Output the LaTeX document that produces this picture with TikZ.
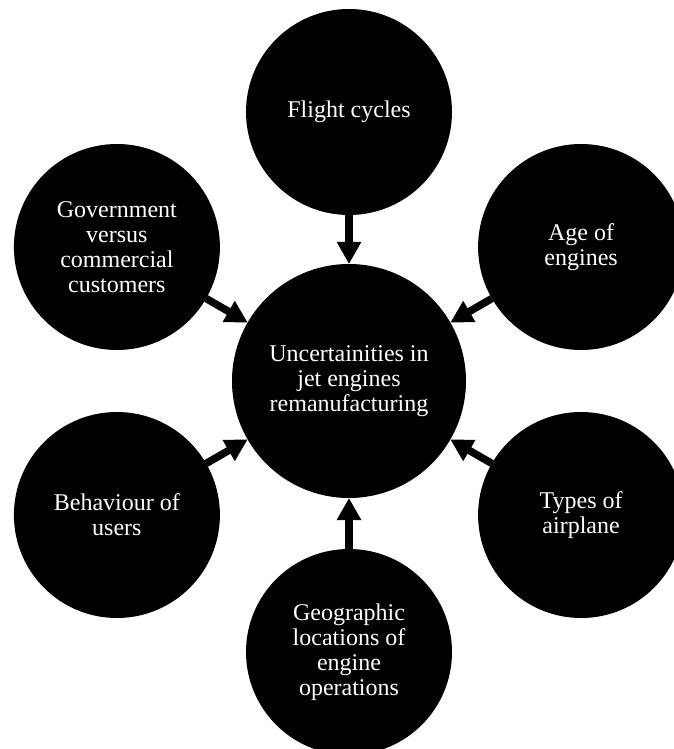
\documentclass[tikz,border=0pt]{standalone}
\usepackage{fontspec}
\setmainfont{Liberation Serif}
\usetikzlibrary{arrows.meta}

\begin{document}
\begin{tikzpicture}[
  bubble/.style={circle,fill=black,text=white,inner sep=0pt,outer sep=0pt,minimum size=206pt,align=center,font=\fontsize{24}{25}\selectfont},
  hub/.style={bubble,minimum size=234pt},
  arr/.style={-{Triangle[width=23pt,length=22pt]},line width=7.5pt}]
\useasboundingbox (-349pt,-368pt) rectangle (325pt,381pt);
\node[hub] (a) at (0,0) {Uncertainities in\\jet engines\\remanufacturing};
\node[bubble] (b) at (90:269pt)  {Flight cycles};
\node[bubble] (c) at (30:268pt)  {Age of\\engines};
\node[bubble] (d) at (330:268pt) {Types of\\airplane};
\node[bubble] (e) at (270:271pt) {Geographic\\locations of\\engine\\operations};
\node[bubble] (f) at (210:268pt) {Behaviour of\\users};
\node[bubble] (g) at (150:268pt) {Government\\versus\\commercial\\customers};
\draw [arr] (b)--(a);
\draw [arr] (c)--(a);
\draw [arr] (d)--(a);
\draw [arr] (e)--(a);
\draw [arr] (f)--(a);
\draw [arr] (g)--(a);
\end{tikzpicture}
\end{document}
